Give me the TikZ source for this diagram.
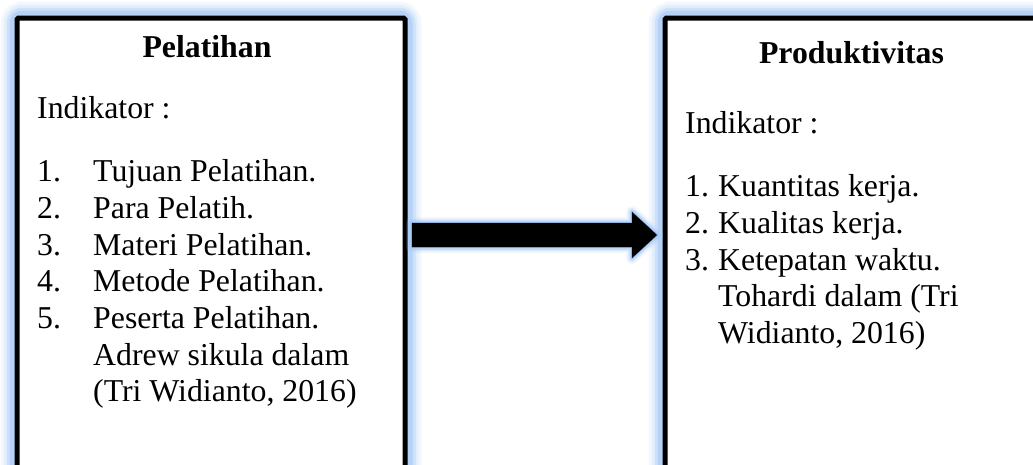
\documentclass[tikz,border=0pt]{standalone}
\usepackage{fontspec}
\setmainfont{Liberation Serif}
\usetikzlibrary{backgrounds,calc}
\definecolor{glowblue}{RGB}{165,200,245}
\definecolor{glowedge}{RGB}{120,160,215}
\begin{document}
\begin{tikzpicture}[x=1pt,y=-1pt,
  txt/.style={inner sep=0pt, anchor=base west, font=\fontsize{31.8}{36.7}\selectfont},
  ttl/.style={inner sep=0pt, anchor=base, font=\fontsize{31.8}{36.7}\selectfont\bfseries},
  boxshape/.style={draw=black, line width=5pt, fill=white, rounded corners=1.5pt, inner sep=0pt, anchor=north west},
  glowline/.style={draw=glowblue, rounded corners=8pt, line join=round},
]
\useasboundingbox (0,0) rectangle (1033,464);
\clip (0,0) rectangle (1033,464);

% boxes
\node[boxshape, minimum width=388pt, minimum height=540pt] (L) at (14.5,15.5) {};
\node[boxshape, minimum width=460pt, minimum height=540pt] (R) at (662.5,15.5) {};

\begin{scope}[on background layer]
  \foreach \w/\o in {28/0.12, 22/0.2, 16/0.35, 10/0.6} {
    \draw[glowline, line width=\w pt, opacity=\o] (L.north west) rectangle (L.south east);
    \draw[glowline, line width=\w pt, opacity=\o] (R.north west) rectangle (R.south east);
  }
\end{scope}

% block arrow from L to R
\coordinate (at) at (412,235);
\coordinate (ah) at (657,235);
\foreach \w/\o in {12/0.15, 8/0.3, 5/0.55} {
  \draw[glowblue, line width=\w pt, opacity=\o, line join=round]
    (at) ++(0,-12) -- ++(220,0) -- ++(0,-11) -- (ah) -- ++(-25,23) -- ++(0,-11) -- ++(-220,0) -- cycle;
}
\draw[glowedge, line width=1.2pt, line join=round]
  (at) ++(0,-12) -- ++(220,0) -- ++(0,-11) -- (ah) -- ++(-25,23) -- ++(0,-11) -- ++(-220,0) -- cycle;
\fill[black] (at) ++(0,-12) -- ++(220,0) -- ++(0,-11) -- (ah) -- ++(-25,23) -- ++(0,-11) -- ++(-220,0) -- cycle;

% left texts
\node[ttl] (lt) at (207,57) {Pelatihan};
\node[txt] (li) at (37,118) {Indikator :};
\node[txt] (ln1) at (37,181.7) {1.};
\node[txt] (ln2) at (37,218.3) {2.};
\node[txt] (ln3) at (37,255) {3.};
\node[txt] (ln4) at (37,291.7) {4.};
\node[txt] (ln5) at (37,328.3) {5.};
\node[txt] (lx1) at (93,181.7) {Tujuan Pelatihan.};
\node[txt] (lx2) at (93,218.3) {Para Pelatih.};
\node[txt] (lx3) at (93,255) {Materi Pelatihan.};
\node[txt] (lx4) at (93,291.7) {Metode Pelatihan.};
\node[txt] (lx5) at (93,328.3) {Peserta Pelatihan.};
\node[txt] (lx6) at (93,365) {Adrew sikula dalam};
\node[txt] (lx7) at (93,401.7) {(Tri Widianto, 2016)};

% right texts
\node[ttl] (rt) at (851.5,63) {Produktivitas};
\node[txt] (ri) at (685,133) {Indikator :};
\node[txt] (rn1) at (685,196.7) {1.};
\node[txt] (rn2) at (685,233.3) {2.};
\node[txt] (rn3) at (685,270) {3.};
\node[txt] (rx1) at (718,196.7) {Kuantitas kerja.};
\node[txt] (rx2) at (718,233.3) {Kualitas kerja.};
\node[txt] (rx3) at (718,270) {Ketepatan waktu.};
\node[txt] (rx4) at (718,306.7) {Tohardi dalam (Tri};
\node[txt] (rx5) at (718,343.3) {Widianto, 2016)};
\end{tikzpicture}
\end{document}
